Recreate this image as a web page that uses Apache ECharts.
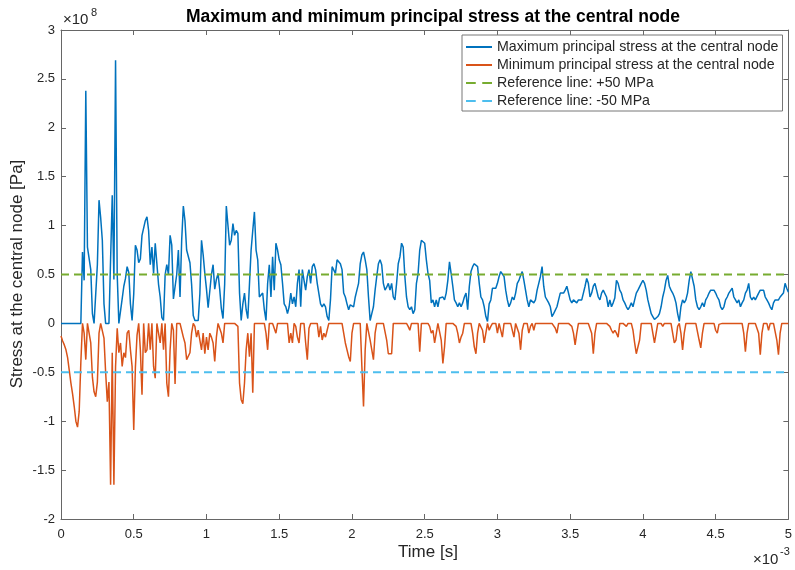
<!DOCTYPE html>
<html><head><meta charset="utf-8">
<script src="https://cdn.jsdelivr.net/npm/echarts@6/dist/echarts.min.js"></script>
<style>html,body{margin:0;padding:0;background:#fff}#c{width:795px;height:570px}</style>
</head><body><div id="c"></div>
<script>
// Time in units of 1e-3 s (uniform simulation step), stress in units of 1e8 Pa
const dtMs = 5 / 440;
const maxStress = [
0,0,0,0,0,0,0,0,0,0,
0,0,0,0.73,0.44,2.38,0.78,0.80,0.55,0.10,
0,0,0.60,1.26,1.08,0.85,0.20,0,0,0,
0,1.31,0.45,2.69,0.50,0,0,0.25,0.38,0.46,
0.58,0.52,0.20,0.03,0.30,0.80,0.75,0.62,0.66,0.90,
0.88,1.05,1.09,0.95,0.60,0.78,0.51,0.82,0.82,0.40,
0.27,0.06,0.03,0.50,0.60,0.50,0.90,0.80,0.25,0.25,
0.50,0.75,0.27,0.85,1.20,1.05,0.75,0.75,0.62,0.40,
0.08,0.03,0.03,0.03,0.30,0.85,0.70,0.51,0.35,0.16,
0.14,0.50,0.60,0.35,0.45,0.51,0.35,0.15,0.05,0.40,
1.20,1.20,0.80,0.85,1.02,0.90,0.95,0.92,0.31,0.03,
0.20,0.31,0.14,0.05,0.07,0.75,0.95,1.14,0.75,0.65,
0.27,0.26,0.31,0.14,0.03,0.41,0.60,0.27,0.68,0.34,
0.82,0.75,0.65,0.60,0.41,0.20,0.17,0.10,0.17,0.31,
0.20,0.27,0.17,0.41,0.55,0.17,0.55,0.44,0.34,0.48,
0.55,0.41,0.58,0.61,0.55,0.41,0.39,0.20,0.17,0.20,
0.17,0.07,0.03,0.24,0.58,0.60,0.51,0.65,0.66,0.61,
0.55,0.31,0.27,0.20,0.14,0.19,0.20,0.17,0.27,0.34,
0.41,0.61,0.70,0.73,0.65,0.55,0.27,0.03,0.10,0.17,
0.34,0.48,0.61,0.65,0.60,0.41,0.34,0.37,0.41,0.34,
0.41,0.27,0.24,0.41,0.61,0.68,0.82,0.78,0.48,0.27,
0.17,0.14,0.17,0.10,0.14,0.41,0.51,0.75,0.85,0.87,
0.82,0.65,0.51,0.44,0.21,0.24,0.17,0.24,0.17,0.26,
0.24,0.27,0.24,0.31,0.44,0.63,0.51,0.38,0.24,0.21,
0.17,0.21,0.17,0.21,0.27,0.31,0.14,0.38,0.53,0.58,
0.61,0.63,0.58,0.41,0.27,0.24,0.17,0.07,0.02,0.20,
0.24,0.36,0.34,0.36,0.41,0.48,0.53,0.51,0.48,0.34,
0.24,0.17,0.21,0.27,0.24,0.31,0.41,0.44,0.49,0.53,
0.44,0.34,0.24,0.17,0.24,0.24,0.21,0.24,0.34,0.41,
0.48,0.58,0.38,0.27,0.24,0.21,0.17,0.07,0.10,0.10,
0.17,0.24,0.31,0.32,0.31,0.34,0.38,0.36,0.24,0.21,
0.24,0.24,0.21,0.24,0.24,0.24,0.31,0.38,0.46,0.41,
0.27,0.31,0.38,0.41,0.34,0.27,0.24,0.31,0.34,0.36,
0.27,0.17,0.24,0.17,0.21,0.26,0.44,0.41,0.34,0.31,
0.24,0.21,0.17,0.14,0.17,0.21,0.17,0.24,0.31,0.34,
0.36,0.41,0.44,0.41,0.34,0.24,0.17,0.10,0.07,0.04,
0.04,0.07,0.10,0.17,0.27,0.34,0.44,0.49,0.38,0.34,
0.31,0.27,0.21,0.10,0.02,0.17,0.24,0.21,0.24,0.31,
0.44,0.53,0.51,0.38,0.24,0.17,0.14,0.17,0.21,0.17,
0.24,0.27,0.31,0.34,0.36,0.34,0.31,0.27,0.24,0.17,
0.14,0.17,0.24,0.27,0.31,0.32,0.36,0.27,0.24,0.21,
0.24,0.17,0.21,0.24,0.31,0.34,0.41,0.27,0.24,0.27,
0.24,0.26,0.31,0.34,0.36,0.34,0.27,0.24,0.21,0.17,
0.14,0.21,0.24,0.24,0.24,0.27,0.26,0.31,0.41,0.36,0.32
];
const minStress = [
-0.13,-0.18,-0.22,-0.27,-0.35,-0.48,-0.61,-0.72,-0.85,-1.00,
-1.06,-0.90,-0.40,0,-0.10,-0.37,0,0,-0.20,-0.55,
-0.70,-0.75,-0.60,-0.10,0,0,-0.15,-0.50,-0.80,-0.60,
-1.65,-0.30,-1.65,-0.44,-0.05,-0.30,-0.20,-0.44,-0.30,-0.35,
-0.10,-0.07,-0.27,-0.44,-1.09,-0.45,-0.12,0,-0.27,-0.73,
0,-0.30,-0.27,0,-0.27,0,-0.44,-0.56,0,0,
-0.20,0,-0.27,0,-0.61,-0.75,-0.27,0,-0.07,-0.62,
0,0,0,-0.07,-0.14,-0.20,-0.37,-0.39,-0.30,-0.10,
0,-0.03,-0.14,-0.07,-0.17,-0.27,-0.10,-0.31,-0.14,-0.27,
-0.10,-0.14,-0.20,-0.39,-0.14,0,0,-0.10,-0.20,0,
0,0,0,0,0,0,0,-0.03,-0.61,-0.78,
-0.82,-0.61,-0.27,-0.10,-0.34,-0.10,-0.71,0,0,0,
0,0,0,0,-0.10,-0.27,0,0,0,0,
-0.10,0,0,0,0,0,0,0,-0.20,-0.10,
-0.20,0,-0.03,-0.14,-0.20,0,0,0,-0.20,-0.37,
-0.05,0,0,0,0,0,-0.14,-0.03,-0.17,-0.10,
-0.14,-0.07,0,0,0,0,0,0,0,0,
0,0,-0.20,-0.20,-0.34,-0.39,-0.10,0,0,0,
0,0,-0.44,-0.85,-0.27,0,0,-0.17,-0.27,-0.37,
-0.10,0,0,0,0,0,0,-0.17,-0.31,-0.32,
-0.31,0,0,0,0,0,0,0,0,0,
-0.03,-0.07,0,0,0,0,0,-0.29,0,0,
0,0,0,-0.03,-0.10,-0.07,-0.20,-0.10,0,0,
-0.17,-0.41,-0.24,0,0,0,0,0,0,-0.03,
-0.10,-0.20,-0.14,-0.10,0,0,0,0,0,-0.10,
-0.24,-0.31,-0.10,0,0,-0.07,-0.20,-0.10,0,-0.07,
-0.03,0,0,0,-0.10,0,0,-0.14,0,0,
0,0,0,0,-0.14,0,0,-0.10,-0.27,-0.07,
0,0,0,-0.10,-0.03,0,-0.07,0,0,0,
0,0,0,0,0,0,0,0,0,-0.05,
-0.10,0,0,0,0,0,0,0,0,-0.03,
-0.10,-0.22,-0.10,0,0,0,0,0,0,0,
0,-0.10,-0.31,-0.10,0,0,0,0,0,0,
0,0,-0.03,-0.07,-0.10,-0.07,-0.10,-0.14,0,0,
0,0,-0.03,0,-0.01,0,-0.07,-0.20,-0.31,-0.32,
-0.17,0,0,0,0,0,0,0,-0.10,-0.20,
-0.10,0,0,0,-0.03,0,0,0,0,0,
-0.10,-0.20,-0.17,-0.03,0,-0.10,-0.27,-0.10,0,0,
0,0,0,0,0,0,-0.17,-0.25,-0.10,0,
0,0,0,0,0,0,-0.07,-0.10,-0.01,0,
0,0,0,-0.02,0,0,0,0,0,0,
0,0,0,-0.10,-0.29,-0.10,0,0,0,0,
0,0,-0.10,-0.32,-0.10,0,0,0,-0.07,0,
0,0,0,-0.17,-0.32,-0.10,0,0,0,0,0
];
const refUpper = 0.5;   // +50 MPa
const refLower = -0.5;  // -50 MPa
const timeRange = [0, 5];
const seriesNames = [
  'Maximum principal stress at the central node',
  'Minimum principal stress at the central node',
  'Reference line: +50 MPa',
  'Reference line: -50 MPa'
];

const FONT = '"Liberation Sans", Arial, Helvetica, sans-serif';
const AX = '#666666', TXT = '#262626';
const toXY = arr => arr.map((v, i) => [i * dtMs, v]);
const ICON_SOLID = 'path://M0,0L26,0L26,2L0,2Z';
const ICON_DASH = 'path://M0,0L9,0L9,2L0,2ZM15,0L24,0L24,2L15,2Z';

const chart = echarts.init(document.getElementById('c'), null, {renderer: 'canvas'});
const axCommonX = {
  type: 'value', min: 0, max: 5, interval: 0.5,
  axisLine: {show: true, onZero: false, lineStyle: {color: AX, width: 1}},
  axisTick: {show: true, inside: true, length: 5, lineStyle: {color: AX}},
  splitLine: {show: false}
};
const axCommonY = {
  type: 'value', min: -2, max: 3, interval: 0.5,
  axisLine: {show: true, onZero: false, lineStyle: {color: AX, width: 1}},
  axisTick: {show: true, inside: true, length: 5, lineStyle: {color: AX}},
  splitLine: {show: false}
};
chart.setOption({
  animation: false,
  backgroundColor: '#fff',
  textStyle: {fontFamily: FONT},
  title: {
    text: 'Maximum and minimum principal stress at the central node',
    left: 428, top: 3, textAlign: 'center',
    textStyle: {fontFamily: FONT, fontSize: 17.5, fontWeight: 'bold', color: '#000'}
  },
  grid: {left: 61, right: 1, top: 30, bottom: 51, containLabel: false},
  xAxis: [
    Object.assign({}, axCommonX, {position: 'bottom',
      axisLabel: {color: TXT, fontSize: 13, fontFamily: FONT, margin: 9}}),
    Object.assign({}, axCommonX, {position: 'top', axisLabel: {show: false}})
  ],
  yAxis: [
    Object.assign({}, axCommonY, {position: 'left',
      axisLabel: {color: TXT, fontSize: 13, fontFamily: FONT, margin: 6}}),
    Object.assign({}, axCommonY, {position: 'right', axisLabel: {show: false}})
  ],
  legend: {
    orient: 'vertical', left: 462, top: 35,
    itemWidth: 26, itemHeight: 14, itemGap: 4,
    padding: [5, 4, 3, 4],
    backgroundColor: '#fff', borderColor: '#777', borderWidth: 1,
    textStyle: {fontFamily: FONT, fontSize: 14.2, color: TXT, lineHeight: 14},
    data: [
      {name: seriesNames[0], icon: ICON_SOLID},
      {name: seriesNames[1], icon: ICON_SOLID},
      {name: seriesNames[2], icon: ICON_DASH},
      {name: seriesNames[3], icon: ICON_DASH}
    ]
  },
  series: [
    {name: seriesNames[0], type: 'line', data: toXY(maxStress), showSymbol: false, symbol: 'none',
     lineStyle: {color: '#0072BD', width: 1.5}, itemStyle: {color: '#0072BD'}, z: 3},
    {name: seriesNames[1], type: 'line', data: toXY(minStress), showSymbol: false, symbol: 'none',
     lineStyle: {color: '#D95319', width: 1.5}, itemStyle: {color: '#D95319'}, z: 4},
    {name: seriesNames[2], type: 'line', data: timeRange.map(t => [t, refUpper]), showSymbol: false, symbol: 'none',
     lineStyle: {color: '#77AC30', width: 2, type: [8, 5]}, itemStyle: {color: '#77AC30'}, z: 5},
    {name: seriesNames[3], type: 'line', data: timeRange.map(t => [t, refLower]), showSymbol: false, symbol: 'none',
     lineStyle: {color: '#4DBEEE', width: 2, type: [8, 5]}, itemStyle: {color: '#4DBEEE'}, z: 5}
  ],
  graphic: [
    {type: 'text', x: 17, y: 274, rotation: Math.PI / 2,
     style: {text: 'Stress at the central node [Pa]', font: '17px ' + FONT, fill: TXT, align: 'center', verticalAlign: 'middle'}},
    {type: 'text', x: 428, y: 552,
     style: {text: 'Time [s]', font: '17px ' + FONT, fill: TXT, align: 'center', verticalAlign: 'middle'}},
    {type: 'text', x: 63, y: 20,
     style: {text: '×10', font: '15px ' + FONT, fill: TXT, align: 'left', verticalAlign: 'middle'}},
    {type: 'text', x: 91, y: 13,
     style: {text: '8', font: '11px ' + FONT, fill: TXT, align: 'left', verticalAlign: 'middle'}},
    {type: 'text', x: 753, y: 560,
     style: {text: '×10', font: '15px ' + FONT, fill: TXT, align: 'left', verticalAlign: 'middle'}},
    {type: 'text', x: 780, y: 552,
     style: {text: '-3', font: '11px ' + FONT, fill: TXT, align: 'left', verticalAlign: 'middle'}}
  ]
});
</script>
</body></html>
